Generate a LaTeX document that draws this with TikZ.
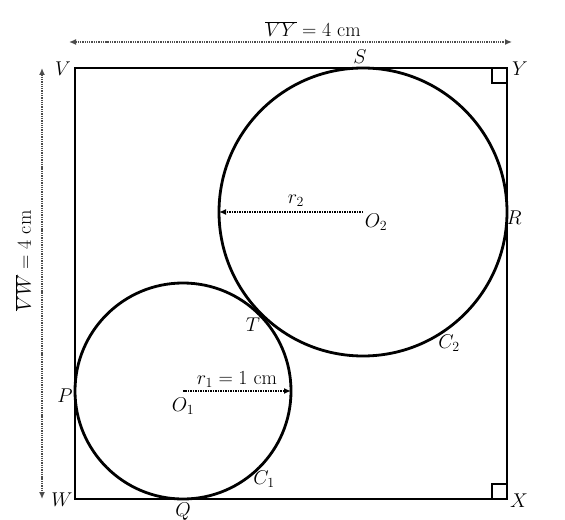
\RequirePackage{fix-cm}
\documentclass[tikz,border=0pt]{standalone}
\usetikzlibrary{arrows.meta}
\begin{document}
\begin{tikzpicture}[x=1bp,y=-1bp,
  lbl/.style={inner sep=0pt,font=\fontsize{20}{24}\selectfont},
  shape line/.style={line width=2.8bp,black},
  dim/.style={densely dotted,line width=1.3bp,black!70,{Latex[length=7bp,width=6bp]}-{Latex[length=7bp,width=6bp]}},
  rad/.style={densely dotted,line width=1.5bp,black,-{Latex[length=7bp,width=6bp]}}]
\fill[white] (0,0) rectangle (565,520);
\useasboundingbox (0,0) rectangle (565,520);
% corners
\coordinate (V) at (75,68);
\coordinate (Y) at (507,68);
\coordinate (X) at (507,499);
\coordinate (W) at (75,499);
\coordinate (O1) at (183,391);
\coordinate (O2) at (363,212);
\coordinate (P1) at (291,391);
\coordinate (P2) at (219,212);
% square
\draw[shape line] (V) -- (Y) -- (X) -- (W) -- cycle;
% right-angle marks
\draw[line width=2bp] (492,68) -- (492,83) -- (507,83);
\draw[line width=2bp] (492,499) -- (492,484) -- (507,484);
% circles
\draw[shape line] (O1) circle[radius=108];
\draw[shape line] (O2) circle[radius=144];
% radii
\draw[rad] (O1) -- (P1);
\draw[rad] (O2) -- (P2);
% dimension arrows
\coordinate (DL) at (69,42);
\coordinate (DR) at (512,42);
\draw[dim] (DL) -- (DR);
\coordinate (DT) at (42,68);
\coordinate (DB) at (42,499);
\draw[dim] (DT) -- (DB);
% labels
\node[lbl] (lVY) at (313,29) {$\overline{VY}=4\ \mathrm{cm}$};
\node[lbl,rotate=90] (lVW) at (23,261) {$\overline{VW}=4\ \mathrm{cm}$};
\node[lbl] (lV) at (63,69) {$V$};
\node[lbl] (lY) at (520,69) {$Y$};
\node[lbl] (lS) at (360,57) {$S$};
\node[lbl] (lR) at (514,218) {$R$};
\node[lbl] (lT) at (253,325) {$T$};
\node[lbl] (lC2) at (449,343) {$C_2$};
\node[lbl] (lO2) at (376,222) {$O_2$};
\node[lbl] (lr2) at (296,201) {$r_2$};
\node[lbl] (lP) at (65,396) {$P$};
\node[lbl] (lO1) at (183,406) {$O_1$};
\node[lbl] (lr1) at (237,380) {$r_1=1\ \mathrm{cm}$};
\node[lbl] (lC1) at (264,479) {$C_1$};
\node[lbl] (lW) at (62,500) {$W$};
\node[lbl] (lQ) at (183,512) {$Q$};
\node[lbl] (lX) at (519,501) {$X$};
\end{tikzpicture}
\end{document}
